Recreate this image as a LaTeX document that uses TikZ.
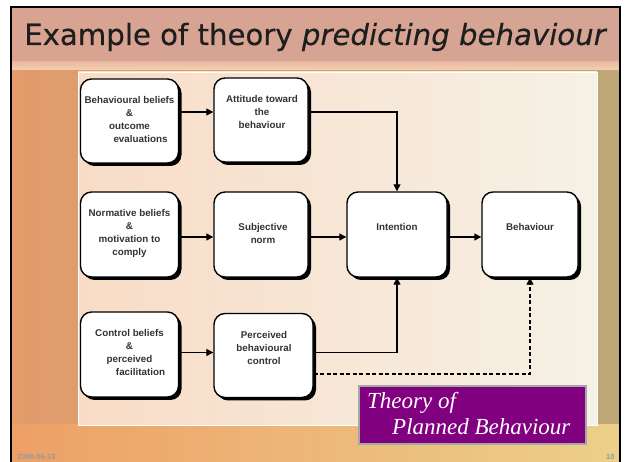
\documentclass[tikz,border=0pt]{standalone}
\usepackage{fontspec}
\setmainfont{Liberation Sans}
\newfontfamily\titlefont{DejaVu Sans}[FakeBold=0.4]
\newfontfamily\tpbfont{Liberation Serif}
\usetikzlibrary{arrows.meta,shadows}

\definecolor{bandL}{HTML}{D8A391}
\definecolor{bandM}{HTML}{EABBA2}
\definecolor{bandR}{HTML}{D6A494}
\definecolor{bodyL}{HTML}{E39C6C}
\definecolor{bodyM}{HTML}{F0C49C}
\definecolor{bodyR}{HTML}{BEA676}
\definecolor{footL}{HTML}{EDA066}
\definecolor{footM}{HTML}{F1B870}
\definecolor{footR}{HTML}{ECD08A}
\definecolor{panelL}{HTML}{F8DCC6}
\definecolor{panelR}{HTML}{F6F1E6}
\definecolor{boxtext}{HTML}{333333}
\definecolor{tpbfill}{HTML}{800080}
\definecolor{titletext}{HTML}{1E1E1E}

\begin{document}
\begin{tikzpicture}[x=1pt,y=-1pt,
  box/.style={draw=black, line width=1.4pt, fill=white, rounded corners=11pt,
    inner sep=0pt,
    drop shadow={shadow xshift=3pt, shadow yshift=-3pt, opacity=1, fill=black}},
  lbl/.style={align=center, text=boxtext, inner sep=0pt,
    font=\fontsize{9.8}{13}\selectfont\bfseries},
  conn/.style={line width=1.3pt, -{Triangle[length=7pt,width=7pt]}},
  foot/.style={anchor=base west, inner sep=0pt, text=black!40,
    font=\fontsize{7.5}{7.5}\selectfont\bfseries}]

\useasboundingbox (0,0) rectangle (625,462);
\clip (0,0) rectangle (625,462);
\fill[white] (0,0) rectangle (625,462);

% slide background
\shade[left color=bodyL, middle color=bodyM, right color=bodyR]
  (11,67) rectangle (620,470);
\shade[left color=footL, middle color=footM, right color=footR]
  (11,425) rectangle (620,470);
% title band
\shade[left color=bandL, middle color=bandM, right color=bandR]
  (11,7) rectangle (620,66);
\shade[top color=bandM, bottom color=bodyM!80!white] (11,62) rectangle (620,70);
% content panel
\shade[left color=panelL, right color=panelR] (78,72) rectangle (597,425);
\draw[white!90!panelR, line width=0.8pt] (78,72) rectangle (597,425);
% slide frame
\draw[line width=2pt] (11,7) rectangle (620,480);

% title
\node[anchor=base west, inner sep=0pt, text=titletext,
  font=\titlefont\fontsize{29.2}{29.2}\selectfont] (title) at (24,45)
  {Example of theory \textit{predicting behaviour}};

% boxes
\node[box, minimum width=98pt, minimum height=84pt] (A) at (129.5,121) {};
\node[box, minimum width=94pt, minimum height=84pt] (B) at (261,120) {};
\node[box, minimum width=98pt, minimum height=85pt] (C) at (129.5,234.5) {};
\node[box, minimum width=94pt, minimum height=85pt] (D) at (261,234.5) {};
\node[box, minimum width=98pt, minimum height=85pt] (E) at (129.5,354.5) {};
\node[box, minimum width=99pt, minimum height=84pt] (F) at (263.5,355.5) {};
\node[box, minimum width=100pt, minimum height=85pt] (I) at (397,234.5) {};
\node[box, minimum width=96pt, minimum height=85pt] (Bh) at (530,234.5) {};

% box texts
\node[lbl] (tA) at (129.5,120) {Behavioural beliefs\\\&\\outcome\\\hspace*{22pt}evaluations};
\node[lbl] (tB) at (262,112) {Attitude toward\\the\\behaviour};
\node[lbl] (tC) at (129.5,233) {Normative beliefs\\\&\\motivation to\\comply};
\node[lbl] (tD) at (263,233.5) {Subjective\\norm};
\node[lbl] (tE) at (129.5,352) {Control beliefs\\\&\\perceived\\\hspace*{22pt}facilitation};
\node[lbl] (tF) at (264,348) {Perceived\\behavioural\\control};
\node[lbl] (tI) at (397,227) {Intention};
\node[lbl] (tBh) at (530,227) {Behaviour};

% connector heights
\coordinate (r1) at (0,112);
\coordinate (r2) at (0,237);
\coordinate (r3) at (0,352.5);
\coordinate (r4) at (0,374);

% connectors
\draw[conn] (A.east |- r1) -- (B.west |- r1);
\draw[conn] (B.east |- r1) -| (I.north);
\draw[conn] (C.east |- r2) -- (D.west |- r2);
\draw[conn] (D.east |- r2) -- (I.west |- r2);
\draw[conn] (I.east |- r2) -- (Bh.west |- r2);
\draw[conn] (E.east |- r3) -- (F.west |- r3);
\draw[conn] (F.east |- r3) -| (I.south);
\draw[conn, dash pattern=on 4pt off 2.5pt] (F.east |- r4) -| (Bh.south);

% theory label
\node[draw=black!35, line width=1.5pt, fill=tpbfill, inner sep=0pt,
  minimum width=227pt, minimum height=58pt] (tpb) at (472.5,415) {};
\node[anchor=base west, inner sep=0pt, text=white,
  font=\tpbfont\itshape\fontsize{23}{23}\selectfont] (tpb1) at (367,409) {Theory of};
\node[anchor=base west, inner sep=0pt, text=white,
  font=\tpbfont\itshape\fontsize{23}{23}\selectfont] (tpb2) at (392,435) {Planned Behaviour};

% footer
\node[foot] (date) at (17,460) {2008-06-13};
\node[foot] (page) at (606,460) {10};

\end{tikzpicture}
\end{document}
